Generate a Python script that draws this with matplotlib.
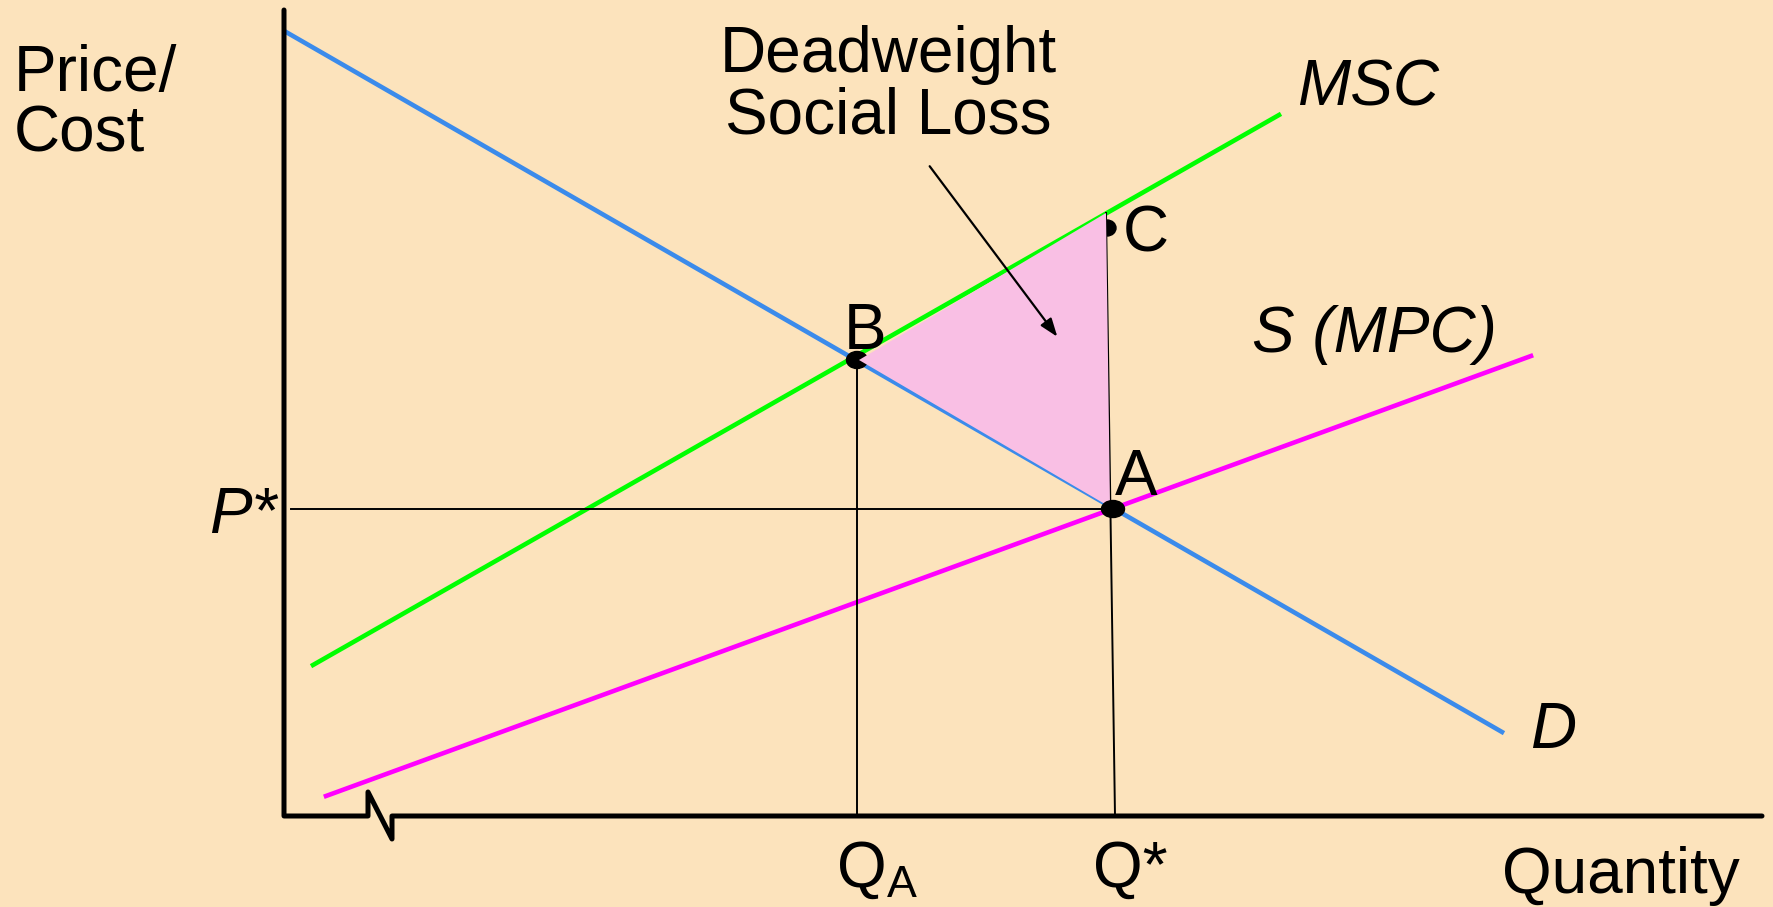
#!/usr/bin/env python3
"""Negative externality: deadweight social loss diagram"""

import matplotlib.pyplot as plt
from matplotlib.patches import Ellipse, Polygon

plt.rcParams['font.family'] = ['Liberation Sans', 'DejaVu Sans']

W, H = 1773, 907

# curve end points (figure pixel space, y grows downward)
demand_x = [286, 1502]
demand_y = [32, 732]
msc_x = [313, 1279]
msc_y = [665, 115]
mpc_x = [326, 1531]
mpc_y = [796, 356]

# key points
pt_B = (857, 360)
pt_A = (1113, 509)
pt_C = (1106, 213)
dot_C = (1107, 228)

# axes with break
axis_x = [284, 284, 368, 368, 392, 392, 1762]
axis_y = [10, 816, 816, 792, 839, 816, 816]

BG = '#FCE3BC'
BLUE = '#3B8BEB'
GREEN = '#00FF00'
MAGENTA = '#FF00FF'
PINK = '#F9BFE4'

fig = plt.figure(figsize=(W / 100, H / 100), dpi=100, facecolor=BG)
ax = fig.add_axes([0, 0, 1, 1])
ax.set_facecolor(BG)
ax.set_xlim(0, W)
ax.set_ylim(H, 0)
ax.axis('off')

# axis
ax.plot(axis_x, axis_y, color='black', lw=3.6, solid_joinstyle='round',
        solid_capstyle='round', zorder=5)

# curves
ax.plot(demand_x, demand_y, color=BLUE, lw=3.3, zorder=2)
ax.plot(msc_x, msc_y, color=GREEN, lw=3.3, zorder=2)
ax.plot(mpc_x, mpc_y, color=MAGENTA, lw=3.3, zorder=2)

# guide lines
ax.plot([291, pt_A[0]], [pt_A[1], pt_A[1]], color='black', lw=1.4, zorder=3)
ax.plot([pt_B[0], pt_B[0]], [pt_B[1], 816], color='black', lw=1.4, zorder=3)
ax.plot([pt_C[0], 1115], [pt_C[1], 816], color='black', lw=1.4, zorder=3)

# dots
ax.add_patch(Ellipse(pt_B, 21, 17, color='black', zorder=3))
ax.add_patch(Ellipse(dot_C, 18, 16, color='black', zorder=3))
ax.add_patch(Ellipse(pt_A, 23, 17, color='black', zorder=6))

# deadweight triangle
ax.add_patch(Polygon([(pt_B[0] + 2, pt_B[1]), pt_C, (pt_A[0] - 3, pt_A[1] - 2)],
                     closed=True, facecolor=PINK, edgecolor='none', zorder=4))

# arrow
ax.annotate('', xy=(1059, 339), xytext=(928, 164),
            arrowprops=dict(arrowstyle='-|>,head_length=1.1,head_width=0.4',
                            color='black', lw=1.6), zorder=7)

fs = 46
ax.text(14, 91, 'Price/', fontsize=fs, ha='left', va='baseline')
ax.text(14, 152, 'Cost', fontsize=fs, ha='left', va='baseline')
ax.text(888, 72, 'Deadweight', fontsize=fs, ha='center', va='baseline')
ax.text(888, 134, 'Social Loss', fontsize=fs, ha='center', va='baseline')
ax.text(1297, 106, 'MSC', fontsize=fs, style='italic', ha='left', va='baseline')
ax.text(1123, 252, 'C', fontsize=fs, ha='left', va='baseline')
ax.text(844, 349, 'B', fontsize=fs, ha='left', va='baseline')
ax.text(1252, 352, 'S (MPC)', fontsize=fs, style='italic', ha='left', va='baseline')
ax.text(1115, 495, 'A', fontsize=fs, ha='left', va='baseline')
ax.text(209, 533, 'P*', fontsize=fs, style='italic', ha='left', va='baseline')
ax.text(1530, 748, 'D', fontsize=fs, style='italic', ha='left', va='baseline')
ax.text(836, 887, r'Q$_{\mathregular{A}}$', fontsize=fs, ha='left', va='baseline')
ax.text(1093, 887, 'Q*', fontsize=fs, ha='left', va='baseline')
ax.text(1502, 893, 'Quantity', fontsize=fs, ha='left', va='baseline')

plt.savefig('out.png', dpi=100, facecolor=BG)
